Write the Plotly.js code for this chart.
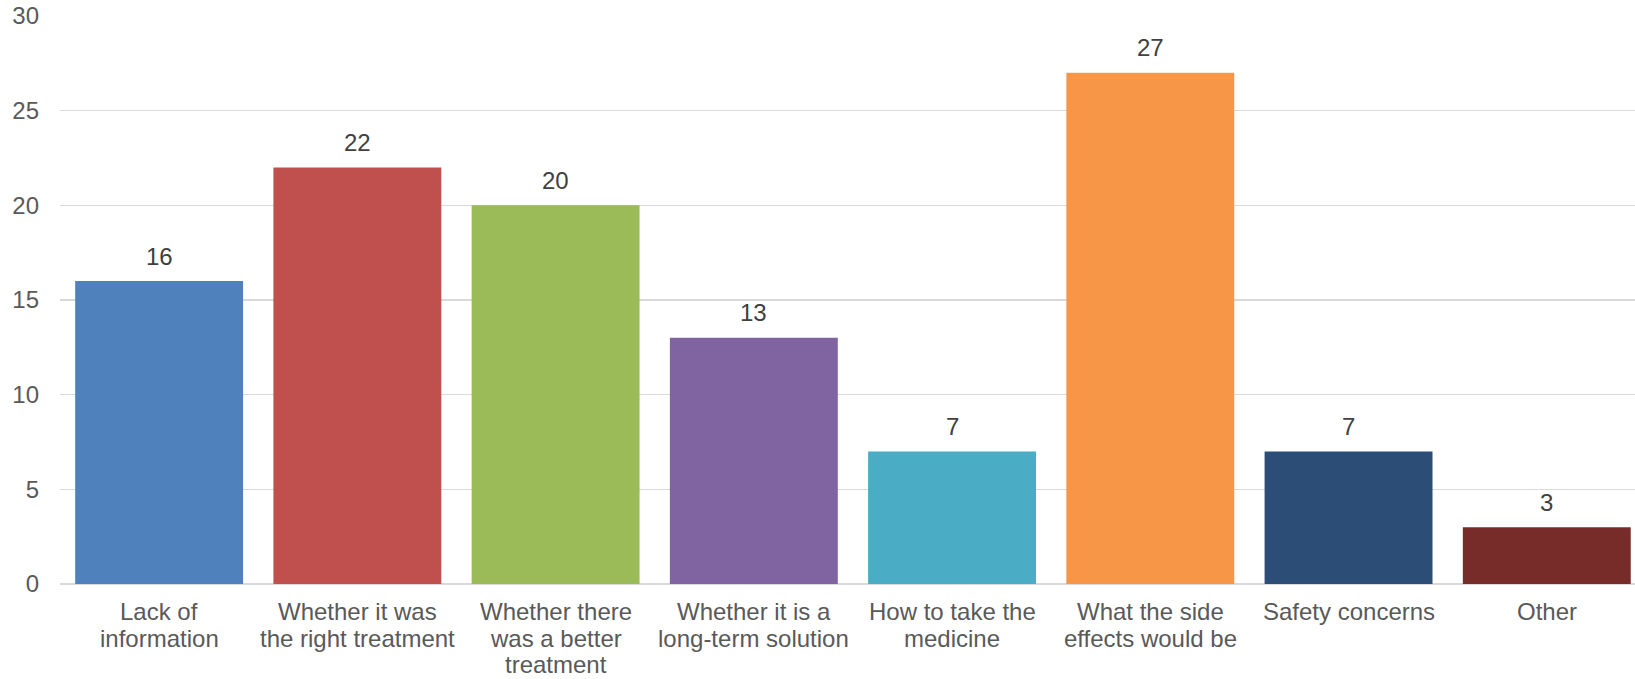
<!DOCTYPE html>
<html>
<head>
<meta charset="utf-8">
<script src="https://cdn.plot.ly/plotly-3.0.1.min.js"></script>
<style>
  html, body { margin: 0; padding: 0; background: #ffffff; }
  #chart { width: 1635px; height: 679px; }
</style>
</head>
<body>
<div id="chart"></div>
<script>
// ---- Data ----
const categoryLines = [
  ["Lack of", "information"],
  ["Whether it was", "the right treatment"],
  ["Whether there", "was a better", "treatment"],
  ["Whether it is a", "long-term solution"],
  ["How to take the", "medicine"],
  ["What the side", "effects would be"],
  ["Safety concerns"],
  ["Other"]
];
const categories = categoryLines.map(l => l.join(" "));
const values = [16, 22, 20, 13, 7, 27, 7, 3];
const barColors = ["#4F81BD", "#C0504D", "#9BBB59", "#8064A2", "#4BACC6", "#F79646", "#2C4D75", "#772C2A"];
const yTickValues = [0, 5, 10, 15, 20, 25, 30];

// ---- Style ----
const FONT = "Liberation Sans, Arial, sans-serif";
const labelColor = "#595959";
const valueColor = "#404040";
const fontSize = 24;
const lineStep = 26.7;
const firstLineOffset = 27.5;

const xIdx = categories.map((c, i) => i);

const trace = {
  type: "bar",
  x: xIdx,
  y: values,
  marker: { color: barColors, line: { width: 0 } },
  width: 0.847,
  hoverinfo: "skip"
};

const annotations = [];
// value labels
values.forEach((v, i) => {
  annotations.push({
    x: i, y: v, xref: "x", yref: "y",
    text: String(v), showarrow: false,
    xanchor: "center", yanchor: "middle", yshift: 25,
    font: { family: FONT, size: fontSize, color: valueColor }
  });
});
// category labels, one annotation per line
categoryLines.forEach((lines, i) => {
  lines.forEach((ln, j) => {
    annotations.push({
      x: i, y: 0, xref: "x", yref: "paper",
      text: ln, showarrow: false, borderpad: 0,
      xanchor: "center", yanchor: "middle",
      yshift: -(firstLineOffset + lineStep * j),
      font: { family: FONT, size: fontSize, color: labelColor }
    });
  });
});

const layout = {
  width: 1635,
  height: 679,
  margin: { l: 60, r: 0, t: 16, b: 95, pad: 0 },
  paper_bgcolor: "#ffffff",
  plot_bgcolor: "#ffffff",
  showlegend: false,
  bargap: 0.15,
  xaxis: {
    range: [-0.5, 7.445],
    showticklabels: false,
    showgrid: false,
    zeroline: false,
    showline: false,
    ticks: "",
    fixedrange: true
  },
  yaxis: {
    range: [0, 30],
    tickvals: yTickValues,
    ticktext: yTickValues.map(String),
    showgrid: true,
    gridcolor: "#D9D9D9",
    gridwidth: 1.3,
    zeroline: true,
    zerolinecolor: "#D9D9D9",
    zerolinewidth: 1.3,
    showline: false,
    ticks: "",
    ticklabelstandoff: 20,
    tickfont: { family: FONT, size: fontSize, color: labelColor },
    fixedrange: true
  },
  annotations: annotations
};

Plotly.newPlot("chart", [trace], layout, { staticPlot: true, displayModeBar: false });
</script>
</body>
</html>
